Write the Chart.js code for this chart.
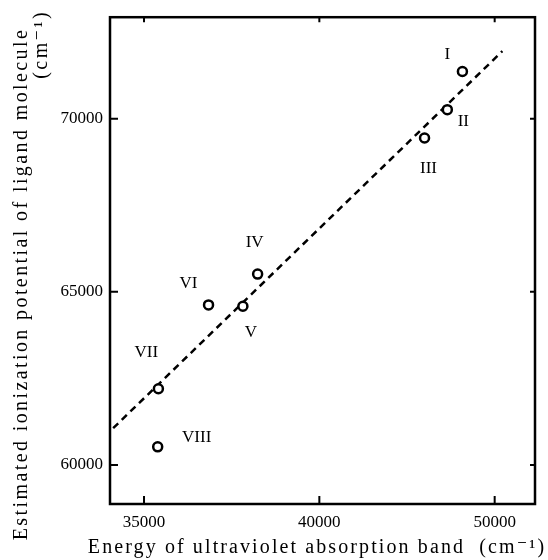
<!DOCTYPE html>
<html>
<head>
<meta charset="utf-8">
<script src="https://cdn.jsdelivr.net/npm/chart.js@4"></script>
<style>
  html, body { margin: 0; padding: 0; background: #fff; }
  #wrap { width: 548px; height: 560px; }
</style>
</head>
<body>
<div id="wrap"><canvas id="ipChart" width="548" height="560"></canvas></div>
<script>
// compounds and their readings
const compoundNames = ["I", "II", "III", "IV", "V", "VI", "VII", "VIII"];
const uvEnergy = [44080, 43650, 43000, 38240, 37820, 36840, 35410, 35390];
const ionPotential = [71360, 70260, 69440, 65510, 64580, 64620, 62200, 60520];

// dashed fit line end points
const fitX = [34120, 45220];
const fitY = [61060, 71950];

// tick values and what is printed at them
const xTickValues = [35000, 40000, 45000];
const xTickLabels = ["35000", "40000", "50000"];
const yTickValues = [60000, 65000, 70000];
const yTickLabels = ["60000", "65000", "70000"];

const xTitle = "Energy of ultraviolet absorption band  (cm\u207B\u00B9)";
const yTitle = ["Estimated ionization potential of ligand molecule", "(cm\u207B\u00B9)"];

// where each roman numeral sits relative to its point (px)
const labelOffsets = [[-15, -17], [16, 12], [4, 30], [-3, -32], [8, 26], [-20, -21], [-12, -36], [39, -9]];

const SERIF = "'Liberation Serif', 'DejaVu Serif', serif";

const framePlugin = {
  id: "framePlugin",
  afterDraw(chart) {
    const ctx = chart.ctx;
    const a = chart.chartArea;
    const xs = chart.scales.x;
    const ys = chart.scales.y;
    ctx.save();
    ctx.strokeStyle = "#000";
    ctx.lineWidth = 2.5;
    ctx.strokeRect(a.left, a.top, a.right - a.left, a.bottom - a.top);

    // inward ticks
    ctx.lineWidth = 2;
    xTickValues.forEach((v) => {
      const px = xs.getPixelForValue(v);
      ctx.beginPath();
      ctx.moveTo(px, a.bottom);
      ctx.lineTo(px, a.bottom - 8);
      ctx.moveTo(px, a.top);
      ctx.lineTo(px, a.top + 5);
      ctx.stroke();
    });
    yTickValues.forEach((v) => {
      const py = ys.getPixelForValue(v);
      ctx.beginPath();
      ctx.moveTo(a.left, py);
      ctx.lineTo(a.left + 8, py);
      ctx.moveTo(a.right, py);
      ctx.lineTo(a.right - 5, py);
      ctx.stroke();
    });

    // point labels
    const meta = chart.getDatasetMeta(0);
    ctx.fillStyle = "#000";
    ctx.font = "17px " + SERIF;
    ctx.textAlign = "center";
    ctx.textBaseline = "middle";
    meta.data.forEach((pt, i) => {
      const off = labelOffsets[i];
      ctx.fillText(compoundNames[i], pt.x + off[0], pt.y + off[1]);
    });

    // axis titles
    ctx.font = "20px " + SERIF;
    ctx.letterSpacing = "2.1px";
    ctx.textBaseline = "alphabetic";
    ctx.textAlign = "center";
    ctx.fillText(xTitle, 317, 553);

    ctx.letterSpacing = "2.4px";
    ctx.translate(27, 284);
    ctx.rotate(-Math.PI / 2);
    ctx.fillText(yTitle[0], 0, 0);
    ctx.textAlign = "right";
    ctx.fillText(yTitle[1], 274, 20);
    ctx.restore();
  },
};

new Chart(document.getElementById("ipChart").getContext("2d"), {
  type: "scatter",
  data: {
    datasets: [
      {
        label: "compounds",
        data: uvEnergy.map((x, i) => ({ x: x, y: ionPotential[i] })),
        pointRadius: 4.5,
        pointHoverRadius: 4.5,
        pointBorderWidth: 2.5,
        pointBorderColor: "#000",
        pointBackgroundColor: "#fff",
        showLine: false,
      },
      {
        label: "fit",
        data: fitX.map((x, i) => ({ x: x, y: fitY[i] })),
        showLine: true,
        borderColor: "#000",
        borderWidth: 2.5,
        borderDash: [7, 5],
        pointRadius: 0,
        fill: false,
      },
    ],
  },
  options: {
    responsive: false,
    animation: false,
    devicePixelRatio: 1,
    layout: { padding: { top: 14, right: 13, left: 0, bottom: 0 } },
    plugins: {
      legend: { display: false },
      tooltip: { enabled: false },
    },
    scales: {
      x: {
        type: "linear",
        min: 34030,
        max: 46150,
        afterBuildTicks: (s) => { s.ticks = xTickValues.map((v) => ({ value: v })); },
        afterFit: (s) => { s.height = 56; },
        grid: { display: false, drawTicks: false },
        border: { display: false },
        ticks: {
          padding: 8,
          color: "#000",
          font: { family: SERIF, size: 17 },
          maxRotation: 0,
          callback: (v, i) => xTickLabels[i],
        },
      },
      y: {
        type: "linear",
        min: 58870,
        max: 72930,
        afterBuildTicks: (s) => { s.ticks = yTickValues.map((v) => ({ value: v })); },
        afterFit: (s) => { s.width = 110; },
        grid: { display: false, drawTicks: false },
        border: { display: false },
        ticks: {
          padding: 7,
          color: "#000",
          font: { family: SERIF, size: 17 },
          callback: (v, i) => yTickLabels[i],
        },
      },
    },
  },
  plugins: [framePlugin],
});
</script>
</body>
</html>
